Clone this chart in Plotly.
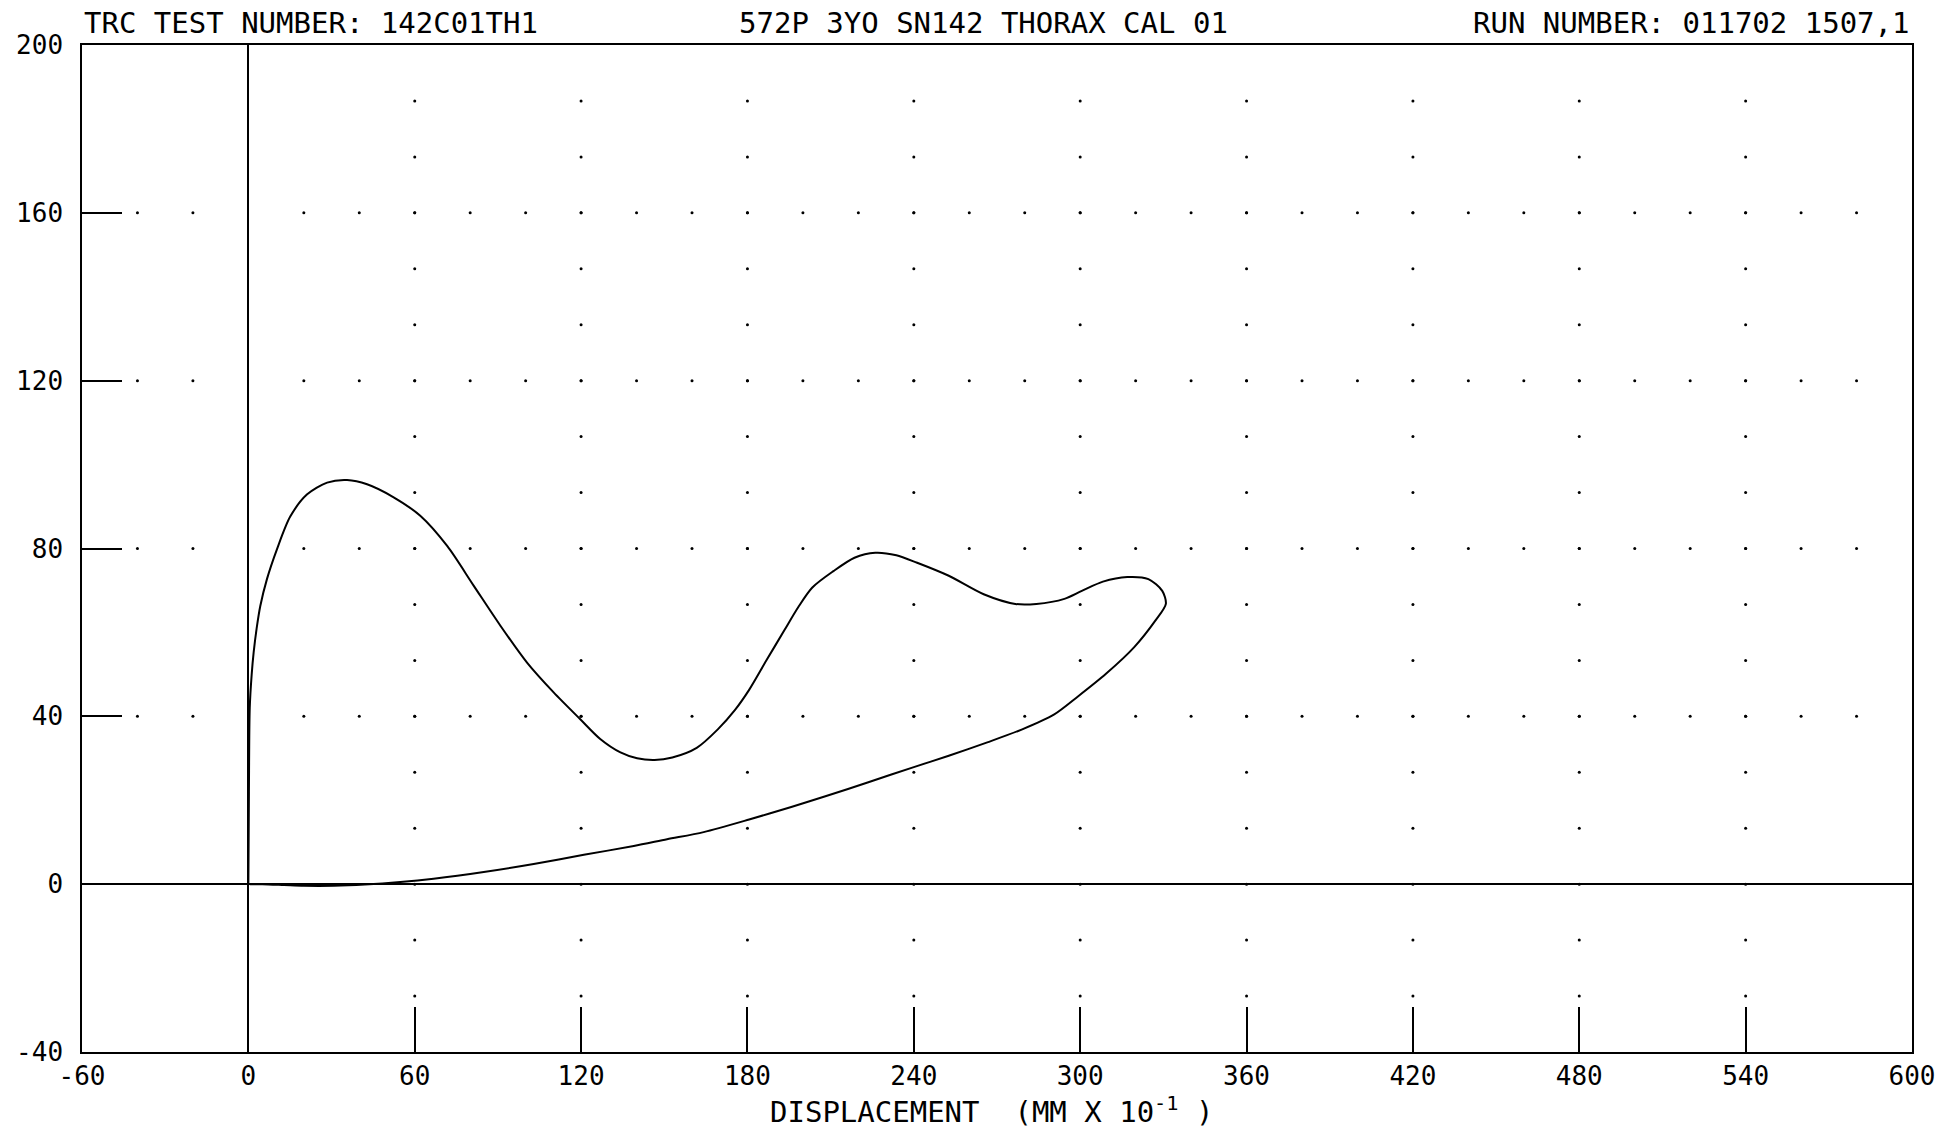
import plotly.graph_objects as go

# thorax calibration: force vs displacement loop
disp = [0, 0.2, 0.5, 1.2, 1.9, 3.0, 4.3, 6.7, 10.3, 15.1, 21.2, 28.4, 35.6, 42.8,
        52.4, 62.0, 71.7, 81.3, 90.9, 100.5, 110.1, 119.7, 126.9, 134.2, 140.2,
        146.5, 152.9, 161.7, 169.3, 175.6, 180.6, 186.9, 193.3, 198.3, 203.4,
        211.0, 218.6, 226.1, 233.7, 241.2, 252.6, 265.2, 276.6, 284.2, 294.3,
        300.6, 308.2, 317.0, 324.6, 329.6, 330.9, 327.1, 319.5, 309.4, 299.3,
        290.5, 279.1, 266.5, 252.6, 240.0, 223.6, 208.4, 195.8, 180.6, 164.2,
        151.0, 139.0, 121.0, 102.9, 84.9, 66.8, 54.8, 42.0, 30.8, 20.0, 12.8,
        5.0, 0.5]
force = [0, 22, 42, 50, 55.2, 61.0, 66.3, 72.7, 79.8, 87.6, 92.9, 95.7, 96.3, 95.3,
         92.2, 87.8, 80.6, 71.1, 61.6, 52.8, 45.7, 39.3, 34.6, 31.4, 30.0,
         29.6, 30.2, 32.5, 36.9, 41.6, 46.3, 53.4, 60.5, 66.0, 70.7,
         74.6, 77.8, 79.0, 78.4, 76.6, 73.5, 69.1, 66.8, 66.8, 68.0,
         69.9, 72.1, 73.2, 72.7, 69.9, 66.8, 62.8, 56.5, 50.2, 44.8,
         40.4, 36.9, 33.8, 30.6, 27.9, 24.3, 21.0, 18.4, 15.4, 12.4,
         10.7, 9.1, 7.0, 4.8, 2.9, 1.3, 0.5, -0.1, -0.4, -0.4, -0.2,
         0, 0]

x_ticks = [-60, 0, 60, 120, 180, 240, 300, 360, 420, 480, 540, 600]
x_tick_text = ["-60", "0", "60", "120", "180", "240", "300", "360", "420", "480", "540", "600"]
y_ticks = [-40, 0, 40, 80, 120, 160, 200]
y_tick_text = ["-40", "0", "40", "80", "120", "160", "200"]

# dotted plotter grid: rows every 40 with dots every 20, columns every 60 with dots every 40/3
dot_x, dot_y = [], []
for yr in [40, 80, 120, 160]:
    for xc in range(-40, 600, 20):
        if xc != 0:
            dot_x.append(xc)
            dot_y.append(yr)
for xc in range(60, 600, 60):
    for k in range(1, 18):
        dot_x.append(xc)
        dot_y.append(-40 + k * 40 / 3)

FONT = "DejaVu Sans Mono"

fig = go.Figure()
fig.add_trace(go.Scatter(x=dot_x, y=dot_y, mode="markers",
                         marker=dict(color="black", size=3), hoverinfo="skip"))
fig.add_trace(go.Scatter(x=disp, y=force, mode="lines",
                         line=dict(color="black", width=2, shape="spline",
                                   smoothing=0.8, simplify=False)))

fig.update_layout(
    width=1946, height=1129,
    margin=dict(l=82, r=34, t=45, b=77),
    paper_bgcolor="white", plot_bgcolor="white",
    showlegend=False,
    font=dict(family=FONT, size=26, color="black"),
)
fig.update_xaxes(
    range=[-60, 600], tickvals=x_ticks, ticktext=x_tick_text, automargin=False,
    ticks="inside", ticklen=45, tickwidth=1.5, tickcolor="black",
    showgrid=False, zeroline=True, zerolinecolor="black", zerolinewidth=1.5,
    showline=True, mirror=True, linecolor="black", linewidth=1.5,
    ticklabelstandoff=0,
)
fig.update_yaxes(
    range=[-40, 200], tickvals=y_ticks, ticktext=y_tick_text, automargin=False,
    ticks="inside", ticklen=40, tickwidth=1.5, tickcolor="black",
    showgrid=False, zeroline=True, zerolinecolor="black", zerolinewidth=1.5,
    showline=True, mirror=True, linecolor="black", linewidth=1.5,
    ticklabelstandoff=12,
)

header = [("TRC TEST NUMBER: 142C01TH1", 0, "left"),
          ("572P 3YO SN142 THORAX CAL 01", 0.4926, "center"),
          ("RUN NUMBER: 011702 1507,1", 1, "right")]
for txt, xp, anc in header:
    fig.add_annotation(text=txt, x=xp, y=1, xref="paper", yref="paper",
                       xanchor=anc, yanchor="middle", yshift=22, showarrow=False,
                       font=dict(family=FONT, size=29, color="black"))

# axis title as an annotation so it can sit low in the bottom margin
fig.add_annotation(text="DISPLACEMENT\u00a0\u00a0(MM X 10<sup>-1</sup>\u00a0)",
                   x=0.497, y=0, xref="paper", yref="paper",
                   xanchor="center", yanchor="middle", yshift=-58, showarrow=False,
                   font=dict(family=FONT, size=29, color="black"))

# drop the default 8px page margin so the figure fills the window
fig.write_html("out.html", config={"displayModeBar": False},
               post_script="document.body.style.margin='0';")
